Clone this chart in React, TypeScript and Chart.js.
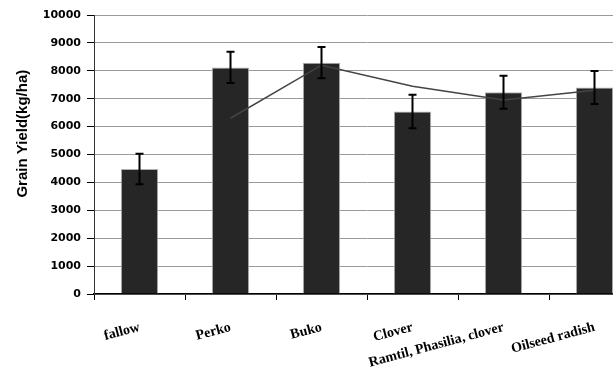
import React, { useEffect, useRef } from "react";
import { Chart, registerables } from "chart.js";

Chart.register(...registerables);

const categories = ["fallow", "Perko", "Buko", "Clover", "Ramtil, Phasilia, clover", "Oilseed radish"];
const grainYield = [4480, 8120, 8290, 6540, 7230, 7400];
const yieldError = [550, 560, 560, 600, 590, 590];
const trendLine = [null, 6300, 8200, 7450, 6950, 7300];
const yTicks = [0, 1000, 2000, 3000, 4000, 5000, 6000, 7000, 8000, 9000, 10000];

const errorBarPlugin = {
  id: "errorBars",
  afterDatasetsDraw(chart: any) {
    const meta = chart.getDatasetMeta(1);
    const yScale = chart.scales.y;
    const ctx = chart.ctx;
    ctx.save();
    ctx.strokeStyle = "#000";
    ctx.lineWidth = 2;
    meta.data.forEach((bar: any, i: number) => {
      const x = bar.x;
      const yTop = yScale.getPixelForValue(grainYield[i] + yieldError[i]);
      const yBot = yScale.getPixelForValue(grainYield[i] - yieldError[i]);
      ctx.beginPath();
      ctx.moveTo(x, yTop);
      ctx.lineTo(x, yBot);
      ctx.moveTo(x - 4, yTop);
      ctx.lineTo(x + 4, yTop);
      ctx.moveTo(x - 4, yBot);
      ctx.lineTo(x + 4, yBot);
      ctx.stroke();
    });
    ctx.restore();
  },
};

export default function App() {
  const ref = useRef<HTMLCanvasElement>(null);
  useEffect(() => {
    if (!ref.current) return;
    const chart = new Chart(ref.current, {
      type: "bar",
      data: {
        labels: categories,
        datasets: [
          {
            type: "line",
            data: trendLine as any,
            borderColor: "#444",
            borderWidth: 1.5,
            pointRadius: 0,
            fill: false,
            tension: 0,
          } as any,
          {
            type: "bar",
            data: grainYield,
            backgroundColor: "#262626",
            borderColor: "#b0b0b0",
            borderWidth: 1,
            categoryPercentage: 1,
            barPercentage: 0.41,
          },
        ],
      },
      options: {
        animation: false,
        responsive: false,
        layout: { padding: { top: 15, right: 20, left: 0, bottom: 0 } },
        plugins: { legend: { display: false }, tooltip: { enabled: false } },
        scales: {
          x: {
            afterFit: (s: any) => {
              s.height = 76;
            },
            grid: {
              drawOnChartArea: false,
              tickLength: 6,
              color: "#000",
              tickColor: "#000",
            },
            border: { display: true, color: "#000", width: 1.5 },
            ticks: {
              minRotation: 15,
              maxRotation: 15,
              autoSkip: false,
              padding: 19,
              color: "#000",
              font: { family: "Liberation Serif", size: 14, weight: "bold" },
            },
          },
          y: {
            min: 0,
            max: 10000,
            afterFit: (s: any) => {
              s.width = 94;
            },
            afterBuildTicks: (s: any) => {
              s.ticks = yTicks.map((v) => ({ value: v }));
            },
            grid: {
              color: "#9a9a9a",
              tickColor: "#000",
              tickLength: 7,
            },
            border: { display: true, color: "#333", width: 1 },
            ticks: {
              padding: 6,
              color: "#000",
              callback: (v: any) => String(v),
              font: { family: "DejaVu Sans", size: 11, weight: "bold" },
            },
            title: {
              display: true,
              text: "          Grain Yield(kg/ha)",
              color: "#000",
              padding: { top: 14, bottom: 0 },
              font: { family: "Liberation Sans", size: 15, weight: "bold" },
            },
          },
        },
      },
      plugins: [errorBarPlugin],
    });
    return () => chart.destroy();
  }, []);
  return (
    <div style={{ position: "fixed", left: 0, top: 0, width: 613, height: 370, overflow: "hidden", background: "#fff" }}>
      <canvas ref={ref} width={660} height={370} />
    </div>
  );
}
